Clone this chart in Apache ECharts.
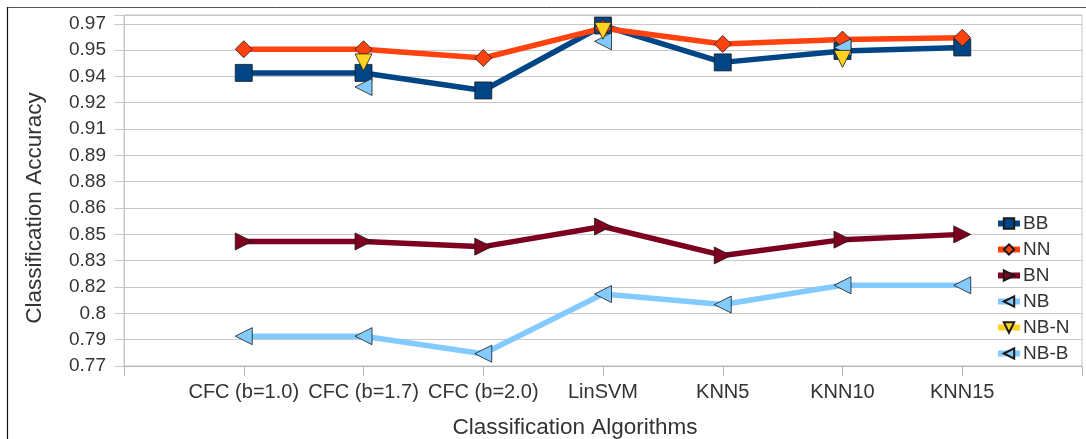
<!DOCTYPE html>
<html><head><meta charset="utf-8">
<script src="https://cdn.jsdelivr.net/npm/echarts@6/dist/echarts.min.js"></script>
<style>html,body{margin:0;padding:0;background:#fff}#c{width:1086px;height:439px}</style>
</head><body><div id="c"></div>
<script>
const categories = ['CFC (b=1.0)','CFC (b=1.7)','CFC (b=2.0)','LinSVM','KNN5','KNN10','KNN15'];
const seriesNames = ['BB','NN','BN','NB','NB-N','NB-B'];
const bb  = [0.937, 0.937, 0.927, 0.964, 0.943, 0.9495, 0.9515];
const nn  = [0.9505, 0.9505, 0.9455, 0.9625, 0.9535, 0.956, 0.957];
const bn  = [0.841, 0.841, 0.838, 0.8495, 0.833, 0.842, 0.845];
const nb  = [null, 0.929, null, 0.955, null, 0.9515, null];
const nbN = [null, 0.943, null, 0.961, null, 0.945, null];
const nbB = [0.787, 0.787, 0.777, 0.811, 0.805, 0.816, 0.816];
const yMin = 0.77, yMax = 0.97, yStep = 0.015;

const FONT = 'Liberation Sans';
const pad = arr => [null, ...arr, null];
const border = {borderColor: '#1a1a1a', borderWidth: 0.8};

function mk(name, data, color, symbol, rot, lw, size) {
  return {
    name, type: 'line', data: pad(data), connectNulls: false,
    symbol, symbolSize: size, symbolRotate: rot, showAllSymbol: true,
    lineStyle: {color, width: lw},
    itemStyle: Object.assign({color}, border),
    emphasis: {disabled: true}, animation: false
  };
}

const chart = echarts.init(document.getElementById('c'), null, {renderer: 'canvas'});
chart.setOption({
  animation: false,
  textStyle: {fontFamily: FONT},
  grid: {left: 124, top: 15, right: 4, bottom: 73, show: true, borderColor: '#c8c8c8', borderWidth: 1},
  xAxis: {
    type: 'category', boundaryGap: false, data: ['', ...categories, ''],
    axisLine: {lineStyle: {color: '#b3b3b3'}},
    axisTick: {show: true, length: 10, interval: 0, lineStyle: {color: '#b3b3b3'}},
    axisLabel: {interval: 0, margin: 16, fontSize: 20, color: '#333', fontFamily: FONT},
    splitLine: {show: false}
  },
  yAxis: {
    type: 'value', min: yMin, max: yMax, interval: yStep,
    axisLine: {show: true, lineStyle: {color: '#c8c8c8'}},
    axisTick: {show: true, length: 10, lineStyle: {color: '#c8c8c8'}},
    axisLabel: {margin: 18, fontSize: 19, color: '#333', fontFamily: FONT,
      formatter: v => (v > yMax - yStep / 3) ? '' : String(Math.round(v * 100 + 1e-6) / 100)},
    splitLine: {show: true, lineStyle: {color: '#c8c8c8', width: 1}}
  },
  legend: {
    orient: 'vertical', left: 995, top: 214, padding: 0, itemWidth: 22, itemHeight: 13, itemGap: 7,
    data: seriesNames,
    lineStyle: {width: 6},
    textStyle: {fontSize: 19, color: '#333', fontFamily: FONT, padding: [0,0,0,-2]}
  },
  series: [
    mk('BB', bb, '#004586', 'rect', 0, 5.5, 17),
    mk('NN', nn, '#ff420e', 'diamond', 0, 5.5, 17),
    mk('BN', bn, '#7e0021', 'triangle', -90, 5.5, 17),
    mk('NB', nb, '#83caff', 'triangle', 90, 5.5, 17),
    mk('NB-N', nbN, '#ffd320', 'triangle', 180, 5.5, 17),
    mk('NB-B', nbB, '#83caff', 'triangle', 90, 5.5, 17)
  ],
  graphic: [
    {type: 'line', shape: {x1: 7, y1: 7.5, x2: 1086, y2: 7.5}, style: {stroke: '#555', lineWidth: 1}, silent: true},
    {type: 'line', shape: {x1: 7.5, y1: 7, x2: 7.5, y2: 439}, style: {stroke: '#111', lineWidth: 1.2}, silent: true},
    {type: 'text', x: 35, y: 208, rotation: Math.PI / 2,
      style: {text: 'Classification Accuracy', fontSize: 22.5, fill: '#333', fontFamily: FONT, align: 'center', verticalAlign: 'middle'}},
    {type: 'text', x: 575, y: 428,
      style: {text: 'Classification Algorithms', fontSize: 22.5, fill: '#333', fontFamily: FONT, align: 'center', verticalAlign: 'middle'}}
  ]
});
</script></body></html>
